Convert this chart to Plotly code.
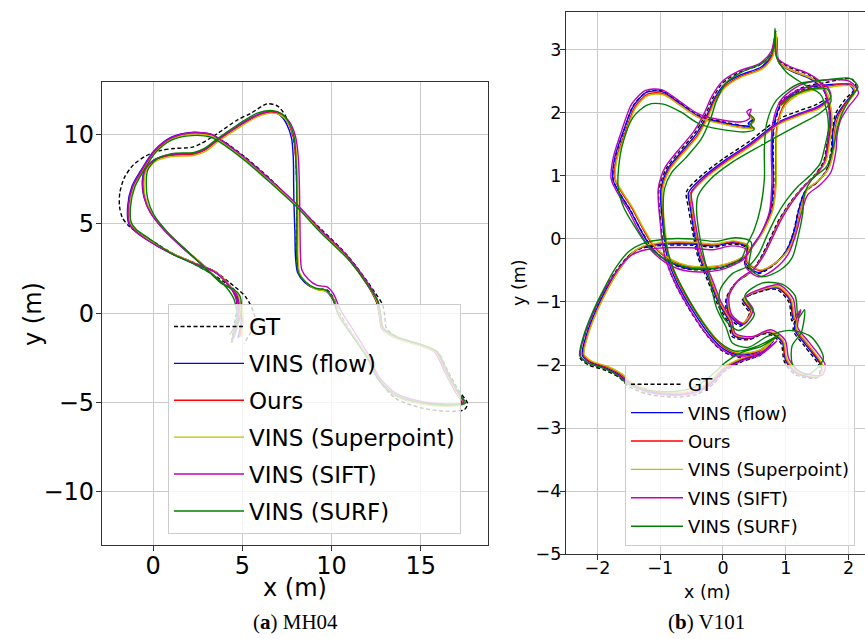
import plotly.graph_objects as go

# ---------------- MH04 trajectories (x, y in metres) ----------------
MH04_GT = [
    (4.4, -1.65), (4.55, -0.7), (4.7, 0.4), (4.55, 1.3), (3.9, 1.8), (3.2, 2.25), (2.2, 2.8), (1.0, 3.4),
    (0.1, 3.95), (-0.7, 4.45), (-1.3, 4.82), (-1.72, 5.35), (-1.88, 6.0), (-1.86, 6.75), (-1.6, 7.6),
    (-1.1, 8.3), (-0.4, 8.8), (0.4, 9.1), (1.2, 9.22), (2.15, 9.28), (2.7, 9.5), (3.6, 10.05), (4.7, 10.8),
    (5.5, 11.2), (6.4, 11.72), (7.0, 11.58), (7.42, 11.05), (7.75, 10.25), (7.95, 9.3), (8.02, 8.3),
    (8.05, 7.0), (8.05, 5.5), (8.03, 4.0), (8.05, 3.0), (8.2, 2.2), (8.6, 1.65), (9.2, 1.35), (9.75, 1.3),
    (10.1, 0.85), (10.5, -0.1), (11.4, -1.5), (12.15, -2.65), (12.7, -3.8), (13.6, -4.78), (15.1, -5.32),
    (16.6, -5.5), (17.45, -5.4), (17.62, -5.05), (17.1, -4.3), (16.5, -3.2), (16.0, -2.25), (15.2, -1.85),
    (13.7, -1.35), (13.08, -0.85), (12.98, -0.1), (12.85, 0.5), (12.4, 1.2), (12.0, 1.78), (10.9, 3.22),
    (9.4, 4.72), (8.05, 6.02), (6.6, 7.48), (5.1, 8.78), (3.8, 9.72), (3.2, 9.99), (2.15, 10.09),
    (1.0, 9.8), (0.1, 9.06), (-0.6, 7.95), (-1.1, 7.1), (-1.36, 6.0), (-1.3, 5.0), (-1.0, 4.6),
    (-0.3, 4.12), (1.0, 3.38), (2.3, 2.82), (3.45, 2.35), (4.3, 1.7), (5.2, 0.9), (5.7, -0.2),
    (5.5, -1.0), (5.1, -1.7)]

MH04_FLOW = [
    (4.4, -1.65), (4.6, -0.75), (4.8, 0.25), (4.66, 1.08), (4.3, 1.42), (3.76, 1.76), (2.86, 2.64),
    (1.76, 3.58), (0.6, 4.7), (-0.16, 5.65), (-0.52, 6.55), (-0.6, 7.42), (-0.45, 8.05), (0.08, 8.6),
    (1.0, 8.86), (2.3, 8.94), (2.88, 9.16), (3.62, 9.72), (4.72, 10.45), (5.82, 11.08), (6.56, 11.28),
    (7.1, 11.1), (7.48, 10.6), (7.76, 9.8), (7.86, 8.7), (7.88, 7.2), (7.9, 6.0), (7.95, 4.5), (7.98, 3.2),
    (8.1, 2.28), (8.5, 1.72), (9.1, 1.36), (9.66, 1.26), (10.06, 0.8), (10.42, -0.15), (11.3, -1.45),
    (12.05, -2.58), (12.6, -3.68), (13.55, -4.6), (15.05, -5.06), (16.55, -5.16), (17.3, -5.02),
    (16.95, -4.42), (16.36, -3.32), (15.8, -2.2), (15.05, -1.84), (13.55, -1.37), (12.82, -0.88),
    (12.68, -0.12), (12.52, 0.62), (11.98, 1.64), (10.88, 3.12), (9.36, 4.62), (8.0, 6.1), (6.6, 7.42),
    (5.1, 8.72), (3.72, 9.76), (3.24, 10.02), (2.15, 10.12), (1.0, 9.84), (0.05, 9.08), (-0.7, 7.96),
    (-1.18, 7.1), (-1.42, 5.98), (-1.36, 5.02), (-1.06, 4.64), (-0.3, 4.08), (1.0, 3.34), (2.3, 2.78),
    (3.42, 2.32), (4.22, 1.58), (4.7, 0.82), (4.95, -0.35), (4.75, -1.4)]

MH04_OURS = [
    (4.4, -1.65), (4.62, -0.8), (4.85, 0.2), (4.7, 1.05), (4.35, 1.4), (3.8, 1.74), (2.9, 2.62),
    (1.8, 3.56), (0.65, 4.66), (-0.1, 5.6), (-0.47, 6.5), (-0.55, 7.4), (-0.42, 8.02), (0.1, 8.56),
    (1.0, 8.83), (2.3, 8.91), (2.9, 9.13), (3.65, 9.69), (4.75, 10.43), (5.85, 11.06), (6.6, 11.26),
    (7.15, 11.1), (7.55, 10.66), (7.86, 9.86), (7.99, 8.7), (8.06, 7.2), (8.08, 6.0), (8.08, 4.5),
    (8.08, 3.2), (8.18, 2.26), (8.58, 1.7), (9.15, 1.34), (9.7, 1.24), (10.1, 0.76), (10.45, -0.18),
    (11.35, -1.48), (12.1, -2.6), (12.65, -3.7), (13.6, -4.62), (15.1, -5.08), (16.6, -5.18),
    (17.35, -5.05), (17.0, -4.45), (16.4, -3.35), (15.85, -2.22), (15.1, -1.86), (13.6, -1.39),
    (12.85, -0.9), (12.7, -0.15), (12.55, 0.6), (12.0, 1.6), (10.9, 3.08), (9.38, 4.57), (8.02, 6.06),
    (6.62, 7.36), (5.13, 8.66), (3.73, 9.68), (3.26, 9.96), (2.15, 10.06), (1.03, 9.78), (0.09, 9.03),
    (-0.65, 7.92), (-1.12, 7.08), (-1.36, 5.97), (-1.31, 5.04), (-1.03, 4.67), (-0.28, 4.1), (1.03, 3.36),
    (2.33, 2.8), (3.45, 2.34), (4.25, 1.6), (4.75, 0.85), (5.0, -0.3), (4.85, -1.35)]

MH04_SUPERPOINT = [
    (4.4, -1.65), (4.66, -0.82), (4.9, 0.18), (4.76, 1.02), (4.4, 1.38), (3.86, 1.7), (2.95, 2.58),
    (1.86, 3.52), (0.7, 4.62), (-0.05, 5.56), (-0.42, 6.47), (-0.5, 7.38), (-0.38, 7.98), (0.14, 8.5),
    (1.04, 8.76), (2.34, 8.84), (2.94, 9.06), (3.68, 9.62), (4.78, 10.36), (5.88, 11.0), (6.64, 11.2),
    (7.2, 11.06), (7.6, 10.62), (7.92, 9.82), (8.04, 8.68), (8.1, 7.2), (8.12, 6.0), (8.12, 4.5),
    (8.12, 3.2), (8.22, 2.24), (8.62, 1.68), (9.18, 1.32), (9.74, 1.22), (10.14, 0.74), (10.5, -0.2),
    (11.4, -1.5), (12.14, -2.62), (12.7, -3.72), (13.64, -4.64), (15.14, -5.1), (16.64, -5.2),
    (17.4, -5.08), (17.04, -4.48), (16.44, -3.38), (15.9, -2.24), (15.14, -1.88), (13.64, -1.41),
    (12.88, -0.92), (12.73, -0.17), (12.58, 0.58), (12.03, 1.58), (10.93, 3.05), (9.41, 4.54),
    (8.05, 6.03), (6.65, 7.33), (5.16, 8.62), (3.76, 9.64), (3.28, 9.92), (2.17, 10.02), (1.06, 9.74),
    (0.12, 8.99), (-0.6, 7.9), (-1.08, 7.06), (-1.32, 5.96), (-1.27, 5.05), (-1.0, 4.68), (-0.24, 4.1),
    (1.06, 3.36), (2.36, 2.79), (3.48, 2.32), (4.28, 1.58), (4.8, 0.86), (5.06, -0.28), (4.95, -1.32)]

MH04_SIFT = [
    (4.4, -1.65), (4.58, -0.78), (4.82, 0.22), (4.68, 1.06), (4.32, 1.41), (3.78, 1.73), (2.88, 2.6),
    (1.78, 3.54), (0.62, 4.64), (-0.12, 5.58), (-0.5, 6.5), (-0.57, 7.42), (-0.44, 8.04), (0.1, 8.6),
    (1.0, 8.88), (2.3, 8.96), (2.9, 9.17), (3.64, 9.72), (4.74, 10.46), (5.86, 11.1), (6.62, 11.3),
    (7.2, 11.16), (7.64, 10.72), (7.98, 9.9), (8.14, 8.74), (8.2, 7.2), (8.22, 6.0), (8.24, 4.5),
    (8.26, 3.3), (8.34, 2.42), (8.7, 1.9), (9.2, 1.55), (9.75, 1.47), (10.1, 1.1), (10.5, 0.2),
    (11.38, -1.2), (12.1, -2.4), (12.65, -3.55), (13.6, -4.48), (15.1, -4.96), (16.6, -5.08),
    (17.4, -5.0), (17.05, -4.4), (16.45, -3.3), (15.88, -2.16), (15.12, -1.8), (13.62, -1.32),
    (12.88, -0.84), (12.74, -0.08), (12.6, 0.66), (12.05, 1.66), (10.94, 3.14), (9.42, 4.64),
    (8.06, 6.1), (6.64, 7.4), (5.14, 8.7), (3.72, 9.74), (3.24, 10.02), (2.14, 10.1), (1.02, 9.82),
    (0.07, 9.06), (-0.68, 7.94), (-1.15, 7.08), (-1.39, 5.97), (-1.34, 5.03), (-1.05, 4.65),
    (-0.3, 4.08), (1.01, 3.34), (2.31, 2.78), (3.43, 2.33), (4.2, 1.62), (4.6, 0.95), (4.8, -0.2),
    (4.5, -1.45)]

MH04_SURF = [
    (4.4, -1.65), (4.7, -0.85), (4.95, 0.15), (4.85, 1.0), (4.5, 1.35), (3.9, 1.62), (3.0, 2.45),
    (1.95, 3.45), (0.8, 4.55), (0.05, 5.5), (-0.3, 6.4), (-0.38, 7.35), (-0.3, 8.0), (0.2, 8.62),
    (1.05, 8.93), (2.3, 9.0), (2.88, 9.22), (3.6, 9.76), (4.7, 10.52), (5.8, 11.18), (6.7, 11.34),
    (7.22, 11.16), (7.6, 10.7), (7.9, 9.9), (8.0, 8.74), (8.05, 7.2), (8.06, 6.0), (8.06, 4.5),
    (8.06, 3.2), (8.14, 2.28), (8.54, 1.74), (9.1, 1.4), (9.66, 1.3), (10.08, 0.82), (10.4, -0.12),
    (11.28, -1.42), (12.04, -2.56), (12.6, -3.66), (13.56, -4.56), (15.06, -5.02), (16.56, -5.14),
    (17.5, -5.04), (17.1, -4.42), (16.5, -3.3), (15.95, -2.18), (15.2, -1.82), (13.7, -1.34),
    (12.92, -0.86), (12.76, -0.1), (12.6, 0.66), (12.05, 1.54), (10.95, 3.0), (9.4, 4.5), (8.02, 5.98),
    (6.6, 7.28), (5.1, 8.58), (3.7, 9.6), (3.22, 9.86), (2.15, 9.94), (1.06, 9.7), (0.15, 9.0),
    (-0.56, 7.92), (-1.02, 7.06), (-1.26, 5.98), (-1.22, 5.08), (-0.95, 4.7), (-0.2, 4.16), (1.1, 3.3),
    (2.4, 2.7), (3.4, 2.1), (4.1, 1.45), (4.55, 0.75), (4.7, -0.4), (4.3, -1.2)]

# ---------------- V101 trajectories (x, y in metres) ----------------
V101_GT = [
    (0.42, 1.98), (0.49, 1.9), (0.41, 1.84), (0.47, 1.78), (0.3, 1.8), (0.05, 1.85), (-0.38, 1.96),
    (-0.69, 2.17), (-0.96, 2.35), (-1.2, 2.34), (-1.42, 2.13), (-1.58, 1.71), (-1.72, 1.27), (-1.75, 0.95),
    (-1.63, 0.7), (-1.48, 0.47), (-1.31, 0.15), (-1.12, -0.15), (-0.9, -0.35), (-0.6, -0.47), (-0.25, -0.49),
    (0.05, -0.44), (0.35, -0.29), (0.47, -0.12),
    (0.62, 0.1), (0.77, 0.45), (0.81, 0.9), (0.8, 1.4), (0.82, 1.8), (0.95, 2.18), (1.25, 2.4), (1.62, 2.48),
    (2.05, 2.54), (2.12, 2.41), (1.95, 2.22), (1.8, 2.0), (1.74, 1.72), (1.73, 1.45), (1.65, 1.1), (1.5, 0.9),
    (1.3, 0.74), (1.2, 0.45), (1.12, 0.1), (1.0, -0.2), (0.8, -0.42), (0.55, -0.55), (0.35, -0.4),
    (0.38, -0.14), (0.15, -0.08), (-0.15, -0.13), (-0.5, -0.1), (-0.92, -0.1), (-1.3, -0.15), (-1.48, -0.25),
    (-1.69, -0.49), (-1.89, -0.81), (-2.07, -1.18), (-2.21, -1.55), (-2.28, -1.88), (-2.14, -2.0),
    (-1.88, -2.08), (-1.65, -2.2), (-1.5, -2.34), (-1.2, -2.46), (-0.75, -2.51), (-0.4, -2.46),
    (-0.15, -2.3), (0.02, -2.1), (0.3, -1.95), (0.6, -1.84), (0.8, -1.62),
    (0.57, -1.82), (0.25, -1.88), (-0.02, -1.77), (-0.23, -1.56), (-0.49, -1.19), (-0.76, -0.71),
    (-0.92, -0.29), (-0.99, 0.25), (-1.02, 0.78), (-0.9, 1.12), (-0.7, 1.38), (-0.45, 1.68), (-0.28, 1.97),
    (-0.16, 2.24), (0.0, 2.48), (0.25, 2.64), (0.6, 2.77), (0.78, 2.96), (0.84, 3.3), (0.87, 2.86),
    (1.05, 2.73), (1.4, 2.59), (1.58, 2.43), (1.67, 2.18), (1.7, 1.9), (1.66, 1.55), (1.6, 1.22),
    (1.45, 1.0), (1.25, 0.8), (1.05, 0.55), (0.88, 0.28), (0.74, -0.02), (0.6, -0.3), (0.45, -0.52),
    (0.2, -0.7), (0.05, -0.95), (0.08, -1.22), (0.28, -1.38), (0.42, -1.18), (0.3, -0.98), (0.55, -0.85),
    (0.85, -0.8), (1.05, -1.0), (1.1, -1.3), (1.18, -1.18), (1.12, -1.45), (1.3, -1.7), (1.55, -2.05),
    (1.5, -2.2), (1.15, -2.15), (0.98, -1.95), (0.92, -1.65), (0.7, -1.5), (0.4, -1.6), (0.15, -1.55),
    (0.09, -1.34), (-0.08, -1.05), (-0.24, -0.67), (-0.4, -0.28), (-0.48, 0.1), (-0.55, 0.5), (-0.58, 0.75),
    (-0.35, 1.0), (0.0, 1.27), (0.42, 1.55), (0.88, 1.9), (1.2, 2.03), (1.5, 2.14), (1.66, 2.26),
    (1.58, 2.42), (1.25, 2.36), (1.0, 2.25), (0.88, 2.15)]

V101_FLOW = [
    (0.42, 1.98), (0.47, 1.9), (0.4, 1.83), (0.46, 1.79), (0.3, 1.8), (0.04, 1.84), (-0.39, 1.95),
    (-0.7, 2.16), (-0.97, 2.34), (-1.21, 2.33), (-1.42, 2.12), (-1.59, 1.7), (-1.73, 1.26), (-1.75, 0.94),
    (-1.63, 0.7), (-1.48, 0.46), (-1.31, 0.14), (-1.13, -0.15), (-0.9, -0.34), (-0.6, -0.46), (-0.26, -0.48),
    (0.04, -0.43), (0.34, -0.28), (0.47, -0.11),
    (0.62, 0.11), (0.76, 0.46), (0.8, 0.9), (0.79, 1.4), (0.81, 1.8), (0.94, 2.17), (1.24, 2.38), (1.6, 2.44),
    (2.0, 2.45), (2.08, 2.35), (1.94, 2.15), (1.81, 1.95), (1.75, 1.69), (1.74, 1.43), (1.66, 1.1),
    (1.51, 0.91), (1.31, 0.76), (1.21, 0.47), (1.13, 0.11), (1.01, -0.19), (0.81, -0.4), (0.56, -0.53),
    (0.36, -0.38),
    (0.39, -0.13), (0.15, -0.06), (-0.15, -0.11), (-0.5, -0.08), (-0.91, -0.08), (-1.28, -0.13),
    (-1.46, -0.23), (-1.66, -0.48), (-1.86, -0.8), (-2.04, -1.17), (-2.18, -1.54), (-2.24, -1.85),
    (-2.11, -1.96), (-1.86, -2.05), (-1.63, -2.17), (-1.48, -2.3), (-1.19, -2.42), (-0.75, -2.47),
    (-0.41, -2.42), (-0.17, -2.27), (0.01, -2.08), (0.3, -1.92), (0.6, -1.82), (0.81, -1.6),
    (0.57, -1.79), (0.25, -1.84), (0.0, -1.74), (-0.2, -1.54), (-0.46, -1.17), (-0.73, -0.7), (-0.89, -0.28),
    (-0.96, 0.25), (-0.99, 0.78), (-0.88, 1.11), (-0.68, 1.36), (-0.43, 1.66), (-0.26, 1.95), (-0.14, 2.22),
    (0.02, 2.45), (0.27, 2.6), (0.61, 2.73), (0.79, 2.93), (0.86, 3.2), (0.89, 2.8), (1.06, 2.68),
    (1.41, 2.53), (1.59, 2.38), (1.69, 2.13), (1.72, 1.86), (1.68, 1.53), (1.62, 1.21), (1.47, 1.01),
    (1.27, 0.81), (1.07, 0.56), (0.9, 0.29), (0.76, -0.01), (0.62, -0.29), (0.47, -0.5),
    (0.22, -0.68), (0.07, -0.93), (0.1, -1.2), (0.3, -1.36), (0.44, -1.16), (0.32, -0.96), (0.57, -0.83),
    (0.87, -0.78), (1.07, -0.98), (1.12, -1.28), (1.2, -1.16), (1.14, -1.43), (1.32, -1.68), (1.57, -2.03),
    (1.52, -2.19), (1.17, -2.13), (1.0, -1.93), (0.94, -1.63), (0.72, -1.48), (0.42, -1.58), (0.17, -1.53),
    (0.11, -1.32), (-0.06, -1.03), (-0.22, -0.65), (-0.38, -0.27), (-0.46, 0.11), (-0.52, 0.5),
    (-0.55, 0.73), (-0.32, 0.98), (0.02, 1.24), (0.44, 1.52), (0.89, 1.86), (1.21, 1.99), (1.51, 2.1),
    (1.67, 2.23), (1.59, 2.39), (1.26, 2.34), (1.01, 2.23), (0.89, 2.13)]

V101_OURS = [
    (0.42, 1.98), (0.5, 1.88), (0.44, 1.8), (0.5, 1.76), (0.32, 1.77), (0.05, 1.82), (-0.38, 1.93),
    (-0.69, 2.13), (-0.96, 2.31), (-1.2, 2.3), (-1.4, 2.1), (-1.56, 1.69), (-1.7, 1.26), (-1.72, 0.95),
    (-1.6, 0.72), (-1.45, 0.49), (-1.28, 0.17), (-1.1, -0.12), (-0.88, -0.31), (-0.58, -0.43), (-0.24, -0.45),
    (0.06, -0.4), (0.36, -0.26), (0.49, -0.1),
    (0.64, 0.12), (0.79, 0.47), (0.84, 0.9), (0.84, 1.4), (0.86, 1.78), (0.98, 2.14), (1.27, 2.35),
    (1.63, 2.42), (2.03, 2.46), (2.1, 2.36), (1.96, 2.16), (1.84, 1.96), (1.78, 1.7), (1.76, 1.44),
    (1.68, 1.12), (1.53, 0.93), (1.34, 0.78), (1.24, 0.48), (1.16, 0.12), (1.04, -0.17), (0.84, -0.38),
    (0.58, -0.5), (0.38, -0.36),
    (0.4, -0.12), (0.16, -0.04), (-0.15, -0.09), (-0.5, -0.06), (-0.9, -0.06), (-1.27, -0.12),
    (-1.44, -0.22), (-1.64, -0.47), (-1.84, -0.8), (-2.02, -1.17), (-2.16, -1.54), (-2.22, -1.84),
    (-2.1, -1.95), (-1.85, -2.03), (-1.62, -2.15), (-1.47, -2.28), (-1.18, -2.4), (-0.75, -2.45),
    (-0.42, -2.4), (-0.18, -2.25), (0.0, -2.06), (0.3, -1.9), (0.6, -1.8), (0.82, -1.58),
    (0.58, -1.77), (0.26, -1.82), (0.02, -1.72), (-0.18, -1.52), (-0.44, -1.15), (-0.71, -0.68),
    (-0.87, -0.27), (-0.94, 0.25), (-0.97, 0.78), (-0.86, 1.1), (-0.66, 1.35), (-0.41, 1.64), (-0.25, 1.93),
    (-0.13, 2.2), (0.03, 2.42), (0.28, 2.58), (0.62, 2.71), (0.79, 2.92), (0.85, 3.24), (0.88, 2.82),
    (1.07, 2.69), (1.42, 2.55), (1.6, 2.4), (1.7, 2.15), (1.73, 1.88), (1.69, 1.54), (1.63, 1.22),
    (1.48, 1.02), (1.28, 0.82), (1.08, 0.57), (0.91, 0.3), (0.77, 0.0), (0.63, -0.28), (0.48, -0.49),
    (0.23, -0.67), (0.08, -0.92), (0.11, -1.19), (0.31, -1.34), (0.45, -1.14), (0.33, -0.95), (0.58, -0.82),
    (0.88, -0.77), (1.08, -0.97), (1.14, -1.27), (1.21, -1.15), (1.16, -1.42), (1.34, -1.67), (1.58, -2.02),
    (1.53, -2.18), (1.18, -2.12), (1.01, -1.92), (0.95, -1.62), (0.73, -1.47), (0.43, -1.57), (0.18, -1.52),
    (0.12, -1.31), (-0.05, -1.02), (-0.2, -0.64), (-0.36, -0.26), (-0.44, 0.12), (-0.5, 0.5), (-0.52, 0.72),
    (-0.3, 0.96), (0.04, 1.22), (0.46, 1.5), (0.9, 1.84), (1.22, 1.97), (1.52, 2.08), (1.68, 2.22),
    (1.6, 2.38), (1.27, 2.33), (1.02, 2.22), (0.9, 2.12)]

V101_SUPERPOINT = [
    (0.42, 1.98), (0.5, 1.87), (0.43, 1.81), (0.49, 1.75), (0.33, 1.76), (0.06, 1.81), (-0.37, 1.92),
    (-0.68, 2.12), (-0.95, 2.29), (-1.19, 2.28), (-1.39, 2.08), (-1.55, 1.68), (-1.69, 1.25), (-1.71, 0.95),
    (-1.59, 0.73), (-1.44, 0.5), (-1.27, 0.18), (-1.09, -0.11), (-0.87, -0.3), (-0.57, -0.42), (-0.23, -0.44),
    (0.07, -0.39), (0.37, -0.25), (0.5, -0.09),
    (0.65, 0.13), (0.8, 0.48), (0.85, 0.9), (0.85, 1.4), (0.87, 1.77), (0.99, 2.12), (1.28, 2.33),
    (1.64, 2.4), (2.04, 2.43), (2.11, 2.34), (1.97, 2.14), (1.85, 1.94), (1.79, 1.69), (1.77, 1.43),
    (1.69, 1.13), (1.54, 0.94), (1.35, 0.79), (1.25, 0.49), (1.17, 0.13), (1.05, -0.16), (0.85, -0.37),
    (0.59, -0.49), (0.39, -0.35),
    (0.41, -0.11), (0.17, -0.03), (-0.14, -0.08), (-0.49, -0.05), (-0.89, -0.05), (-1.26, -0.11),
    (-1.43, -0.21), (-1.63, -0.46), (-1.83, -0.79), (-2.01, -1.16), (-2.15, -1.53), (-2.21, -1.83),
    (-2.09, -1.94), (-1.84, -2.02), (-1.61, -2.14), (-1.46, -2.27), (-1.17, -2.39), (-0.75, -2.44),
    (-0.43, -2.39), (-0.19, -2.24), (-0.01, -2.05), (0.3, -1.89), (0.6, -1.79), (0.83, -1.57),
    (0.59, -1.76), (0.27, -1.81), (0.03, -1.71), (-0.17, -1.51), (-0.43, -1.14), (-0.7, -0.67),
    (-0.86, -0.26), (-0.93, 0.25), (-0.96, 0.78), (-0.85, 1.09), (-0.65, 1.34), (-0.4, 1.63), (-0.24, 1.92),
    (-0.12, 2.19), (0.04, 2.41), (0.29, 2.57), (0.63, 2.7), (0.8, 2.91), (0.85, 3.26), (0.89, 2.8),
    (1.08, 2.68), (1.43, 2.54), (1.61, 2.39), (1.71, 2.14), (1.74, 1.87), (1.7, 1.53), (1.64, 1.23),
    (1.49, 1.03), (1.29, 0.83), (1.09, 0.58), (0.92, 0.31), (0.78, 0.01), (0.64, -0.27), (0.49, -0.48),
    (0.24, -0.66), (0.09, -0.91), (0.12, -1.18), (0.32, -1.33), (0.46, -1.13), (0.34, -0.94), (0.59, -0.81),
    (0.89, -0.76), (1.09, -0.96), (1.15, -1.26), (1.22, -1.14), (1.17, -1.41), (1.35, -1.66), (1.59, -2.01),
    (1.54, -2.17), (1.19, -2.11), (1.02, -1.91), (0.96, -1.61), (0.74, -1.46), (0.44, -1.56), (0.19, -1.51),
    (0.13, -1.3), (-0.04, -1.01), (-0.19, -0.63), (-0.35, -0.25), (-0.43, 0.13), (-0.49, 0.5), (-0.51, 0.71),
    (-0.29, 0.95), (0.05, 1.21), (0.47, 1.49), (0.91, 1.83), (1.23, 1.96), (1.53, 2.07), (1.69, 2.21),
    (1.61, 2.37), (1.28, 2.32), (1.03, 2.21), (0.91, 2.11)]

V101_SIFT = [
    (0.42, 1.98), (0.45, 2.06), (0.38, 2.02), (0.43, 1.92), (0.3, 1.86), (0.03, 1.88), (-0.4, 1.99),
    (-0.71, 2.2), (-0.98, 2.37), (-1.23, 2.36), (-1.45, 2.15), (-1.61, 1.73), (-1.75, 1.28), (-1.78, 0.95),
    (-1.66, 0.7), (-1.51, 0.46), (-1.34, 0.13), (-1.15, -0.17), (-0.92, -0.37), (-0.62, -0.5), (-0.27, -0.52),
    (0.03, -0.47), (0.33, -0.32), (0.45, -0.15),
    (0.6, 0.08), (0.74, 0.43), (0.78, 0.9), (0.77, 1.4), (0.79, 1.82), (0.92, 2.2), (1.22, 2.44),
    (1.58, 2.52), (2.02, 2.5), (2.16, 2.32), (2.0, 2.1), (1.88, 1.9), (1.82, 1.66), (1.8, 1.4),
    (1.72, 1.06), (1.55, 0.86), (1.35, 0.7), (1.25, 0.41), (1.16, 0.07), (1.04, -0.24), (0.83, -0.47),
    (0.57, -0.6), (0.36, -0.44),
    (0.37, -0.17), (0.14, -0.11), (-0.16, -0.17), (-0.51, -0.14), (-0.93, -0.14), (-1.31, -0.19),
    (-1.49, -0.28), (-1.7, -0.52), (-1.9, -0.83), (-2.08, -1.2), (-2.22, -1.57), (-2.27, -1.86),
    (-2.12, -1.98), (-1.87, -2.06), (-1.64, -2.18), (-1.49, -2.31), (-1.2, -2.43), (-0.76, -2.48),
    (-0.41, -2.43), (-0.16, -2.28), (0.02, -2.08), (0.31, -1.93), (0.61, -1.83), (0.86, -1.62),
    (0.6, -1.8), (0.24, -1.86), (-0.03, -1.75), (-0.24, -1.54), (-0.5, -1.16), (-0.77, -0.68),
    (-0.93, -0.26), (-1.0, 0.27), (-1.03, 0.8), (-0.92, 1.14), (-0.72, 1.4), (-0.47, 1.7), (-0.3, 1.99),
    (-0.18, 2.26), (-0.01, 2.5), (0.24, 2.66), (0.59, 2.79), (0.77, 2.98), (0.83, 3.22), (0.86, 2.88),
    (1.04, 2.75), (1.37, 2.62), (1.56, 2.48), (1.66, 2.22), (1.7, 1.92), (1.67, 1.57), (1.62, 1.24),
    (1.5, 1.04), (1.3, 0.84), (1.1, 0.58), (0.93, 0.31), (0.79, 0.02), (0.65, -0.26), (0.5, -0.47),
    (0.26, -0.64), (0.1, -0.9), (0.14, -1.2), (0.34, -1.35), (0.48, -1.12), (0.36, -0.92), (0.61, -0.79),
    (0.9, -0.73), (1.12, -0.95), (1.17, -1.25), (1.24, -1.12), (1.19, -1.4), (1.38, -1.65), (1.63, -2.0),
    (1.58, -2.16), (1.22, -2.1), (1.05, -1.9), (0.99, -1.6), (0.76, -1.44), (0.46, -1.55), (0.2, -1.5),
    (0.14, -1.29), (-0.03, -1.0), (-0.18, -0.62), (-0.34, -0.24), (-0.42, 0.14), (-0.48, 0.52), (-0.5, 0.74),
    (-0.28, 0.99), (0.06, 1.25), (0.48, 1.53), (0.92, 1.86), (1.24, 1.99), (1.55, 2.11), (1.72, 2.26),
    (1.64, 2.44), (1.3, 2.4), (1.04, 2.27), (0.92, 2.16)]

V101_SURF = [
    (0.42, 1.98), (0.5, 1.9), (0.44, 1.82), (0.5, 1.74), (0.36, 1.7), (0.1, 1.72), (-0.36, 1.82),
    (-0.68, 2.02), (-0.95, 2.14), (-1.2, 2.13), (-1.44, 1.92), (-1.6, 1.5), (-1.66, 1.15), (-1.67, 0.82),
    (-1.58, 0.5), (-1.42, 0.22), (-1.22, -0.08), (-1.02, -0.26), (-0.82, -0.37), (-0.52, -0.46),
    (-0.18, -0.47), (0.1, -0.42), (0.3, -0.3), (0.38, -0.1),
    (0.5, 0.15), (0.6, 0.5), (0.66, 0.95), (0.66, 1.45), (0.7, 1.85), (0.85, 2.2), (1.2, 2.46), (1.6, 2.52),
    (2.02, 2.55), (2.15, 2.42), (2.02, 2.22), (1.9, 2.0), (1.82, 1.75), (1.76, 1.45), (1.65, 1.15),
    (1.42, 0.95), (1.3, 0.72), (1.27, 0.4), (1.2, 0.05), (1.1, -0.3), (0.9, -0.5), (0.62, -0.6),
    (0.42, -0.45),
    (0.45, -0.05), (0.2, 0.02), (-0.12, -0.04), (-0.48, 0.0), (-0.9, 0.0), (-1.3, -0.08), (-1.5, -0.2),
    (-1.71, -0.46), (-1.9, -0.8), (-2.08, -1.17), (-2.22, -1.54), (-2.28, -1.85), (-2.15, -1.97),
    (-1.9, -2.05), (-1.67, -2.17), (-1.52, -2.3), (-1.22, -2.4), (-0.8, -2.42), (-0.45, -2.35),
    (-0.2, -2.18), (0.05, -1.95), (0.3, -1.8), (0.62, -1.7), (0.9, -1.52),
    (0.55, -1.7), (0.2, -1.78), (-0.08, -1.62), (-0.3, -1.35), (-0.55, -0.95), (-0.78, -0.5), (-0.9, -0.1),
    (-0.95, 0.35), (-0.93, 0.8), (-0.82, 1.05), (-0.6, 1.28), (-0.35, 1.58), (-0.2, 1.9), (-0.1, 2.2),
    (0.05, 2.48), (0.32, 2.66), (0.64, 2.8), (0.8, 3.0), (0.83, 3.34), (0.85, 2.9), (1.0, 2.66),
    (1.3, 2.45), (1.55, 2.3), (1.65, 2.05), (1.68, 1.75), (1.62, 1.45), (1.55, 1.2), (1.4, 1.02),
    (1.2, 0.84), (1.0, 0.6), (0.84, 0.34), (0.7, 0.05), (0.58, -0.22), (0.42, -0.42),
    (0.15, -0.55), (-0.05, -0.82), (-0.02, -1.2), (0.25, -1.45), (0.5, -1.2), (0.35, -0.9), (0.62, -0.7),
    (0.95, -0.72), (1.15, -0.9), (1.2, -1.25), (1.3, -1.12), (1.25, -1.48), (1.1, -1.7), (1.12, -2.02),
    (1.35, -2.15), (1.6, -1.9), (1.4, -1.55), (1.05, -1.45), (0.7, -1.55), (0.4, -1.72), (0.15, -1.65),
    (0.05, -1.4), (-0.1, -1.1), (-0.2, -0.7), (-0.3, -0.3), (-0.38, 0.1), (-0.42, 0.45), (-0.4, 0.68),
    (-0.2, 0.95), (0.15, 1.22), (0.6, 1.48), (1.0, 1.7), (1.3, 1.86), (1.55, 2.0), (1.72, 2.18),
    (1.66, 2.38), (1.32, 2.36), (1.06, 2.24), (0.92, 2.12)]

SERIES_NAMES = ["GT", "VINS (flow)", "Ours", "VINS (Superpoint)", "VINS (SIFT)", "VINS (SURF)"]
SERIES_COLORS = ["black", "#0000ff", "#ff0000", "#bfbf00", "#bf00bf", "#008000"]
MH04_SERIES = [MH04_GT, MH04_FLOW, MH04_OURS, MH04_SUPERPOINT, MH04_SIFT, MH04_SURF]
V101_SERIES = [V101_GT, V101_FLOW, V101_OURS, V101_SUPERPOINT, V101_SIFT, V101_SURF]

W, H = 865, 639
FONT = "DejaVu Sans"


def px_x(p):
    return p / W


def px_y(p):
    return 1 - p / H


fig = go.Figure()


def add_panel(series, xa, ya, legend, tag):
    for name, color, pts in zip(SERIES_NAMES, SERIES_COLORS, series):
        xs = [p[0] for p in pts]
        ys = [p[1] for p in pts]
        dash = "4px,2.5px" if name == "GT" else "solid"
        fig.add_trace(go.Scatter(
            x=xs, y=ys, mode="lines", name=name,
            line=dict(color=color, width=1.4, dash=dash, shape="spline", smoothing=0.8),
            xaxis=xa, yaxis=ya, legend=legend, legendgroup=tag + name,
            hoverinfo="skip"))


add_panel(MH04_SERIES, "x", "y", "legend", "a_")
add_panel(V101_SERIES, "x2", "y2", "legend2", "b_")

axis_common = dict(
    showgrid=True, gridcolor="#cbcbcb", gridwidth=1.2, zeroline=False,
    showline=True, linecolor="#333333", linewidth=1.2, automargin=False,
    ticks="outside", ticklen=5, tickwidth=1.2, tickcolor="#333333",
)

fig.update_layout(
    width=W, height=H, margin=dict(l=0, r=0, t=0, b=0, autoexpand=False),
    paper_bgcolor="white", plot_bgcolor="white",
    font=dict(family=FONT, color="black"),
    xaxis=dict(domain=[px_x(102), px_x(488)], range=[-2.86, 18.77], tickvals=[0, 5, 10, 15],
               mirror=True, anchor="y", tickfont=dict(size=24), ticklabelstandoff=-6, **axis_common),
    yaxis=dict(domain=[px_y(545), px_y(82)], range=[-12.98, 12.94], tickvals=[-10, -5, 0, 5, 10],
               mirror=True, anchor="x", tickfont=dict(size=24), ticklabelstandoff=-3, **axis_common),
    xaxis2=dict(domain=[px_x(566), 1.0], range=[-2.5, 2.263], tickvals=[-2, -1, 0, 1, 2],
                mirror=True, anchor="y2", tickfont=dict(size=17.5), ticklabelstandoff=-7, **axis_common),
    yaxis2=dict(domain=[px_y(554), px_y(12)], range=[-5, 3.603], tickvals=list(range(-5, 4)),
                mirror=False, anchor="x2", tickfont=dict(size=17.5), ticklabelstandoff=-5, **axis_common),
    legend=dict(x=px_x(168), y=px_y(304), xanchor="left", yanchor="top",
                bgcolor="rgba(255,255,255,0.8)", bordercolor="#cccccc", borderwidth=1,
                font=dict(size=23, family=FONT), tracegroupgap=4, itemwidth=70),
    legend2=dict(x=px_x(625), y=px_y(365), xanchor="left", yanchor="top",
                 bgcolor="rgba(255,255,255,0.8)", bordercolor="#cccccc", borderwidth=1,
                 font=dict(size=18, family=FONT), tracegroupgap=2, itemwidth=52),
    showlegend=True,
    annotations=[
        # axis titles
        dict(text="x (m)", x=px_x(295), y=px_y(588), xref="paper", yref="paper", showarrow=False,
             xanchor="center", yanchor="middle", font=dict(size=24)),
        dict(text="y (m)", x=px_x(33), y=px_y(314), xref="paper", yref="paper", showarrow=False,
             textangle=-90, xanchor="center", yanchor="middle", font=dict(size=24)),
        dict(text="x (m)", x=px_x(707), y=px_y(592), xref="paper", yref="paper", showarrow=False,
             xanchor="center", yanchor="middle", font=dict(size=17.5)),
        dict(text="y (m)", x=px_x(519), y=px_y(283), xref="paper", yref="paper", showarrow=False,
             textangle=-90, xanchor="center", yanchor="middle", font=dict(size=17.5)),
        # panel captions
        dict(text="(<b>a</b>) MH04", x=px_x(295), y=px_y(622), xref="paper", yref="paper",
             showarrow=False, xanchor="center", yanchor="middle",
             font=dict(family="Liberation Serif", size=21)),
        dict(text="(<b>b</b>) V101", x=px_x(706), y=px_y(622), xref="paper", yref="paper",
             showarrow=False, xanchor="center", yanchor="middle",
             font=dict(family="Liberation Serif", size=21)),
    ],
)

fig.write_html("out.html")
